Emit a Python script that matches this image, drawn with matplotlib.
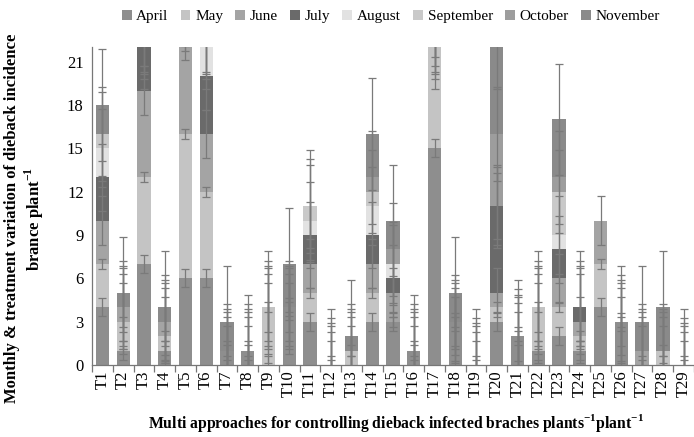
import matplotlib
matplotlib.use("Agg")
import matplotlib.pyplot as plt
import numpy as np

categories = ["T%d" % i for i in range(1, 30)]
months = ["April", "May", "June", "July", "August", "September", "October", "November"]

# None = no entry (no bar segment, no error bar)
april = [4, 1, 7, 1, 6, 6, 1, 1, 0, 4, 3, 0, 0, 3, 3, 1, 15, 3, 0, 3, 2, 1, 2, 1, 4, 3, 0, 0, 0]
may = [3, 2, 6, 1, 10, 6, 0, 0, 4, 0, 2, 0, 1, 2, 0, 0, 8, 0, 0, 1, 0, 3, 2, 1, 3, 0, 0, 1, 0]
june = [3, 1, 6, 1, 9, 4, 0, 0, 0, 0, 2, 0, 0, 2, 2, 0, 0, 0, 0, 1, 0, 0, 2, 1, 3, 0, 1, 0, 0]
july = [3, 0, 4, 0, 0, 4, 0, 0, 0, 0, 2, 0, 0, 2, 1, 0, 0, 0, 0, 6, 0, 0, 2, 1, None, 0, 0, 0, 0]
august = [2, 0, 0, 0, 0, 3, 0, 0, 0, 0, 1, 0, 0, 2, 1, 0, 0, 0, 0, 0, 0, 0, 1, 0, None, 0, 0, 0, 0]
september = [1, 0, 0, 0, 0, 0, 0, 0, 0, 0, 1, 0, 0, 1, 0, 0, 0, 0, 0, 0, 0, 0, 3, 0, None, 0, 0, 0, 0]
october = [0, 0, 0, 0, 0, 0, 0, 0, 0, 0, 0, 0, 0, 1, 1, 0, 0, 0, 0, 5, 0, 0, 1, 0, None, 0, 0, 0, 0]
november = [2, 1, 0, 1, 0, 0, 2, 0, 0, 3, 0, 0, 1, 3, 2, 0, 0, 2, 0, 7, 0, 0, 4, 0, None, 0, 2, 3, 0]

# one standard error per series (same for every treatment)
errors = [0.63, 0.35, 1.69, 2.31, 2.7, 2.88, 3.23, 3.86]

series = [april, may, june, july, august, september, october, november]
colors = ["#8e8e8e", "#c4c4c4", "#a4a4a4", "#6a6a6a", "#e2e2e2", "#c9c9c9", "#9d9d9d", "#8a8a8a"]

plt.rcParams['font.family'] = ['Liberation Serif', 'DejaVu Serif']

fig = plt.figure(figsize=(6.94, 4.37), dpi=100)
ax = fig.add_axes([0.1326, 0.1648, 0.8674, 0.727])

x = np.arange(len(categories))
bottom = np.zeros(len(categories))
for vals, col, lab, err in zip(series, colors, months, errors):
    v = np.array([np.nan if a is None else a for a in vals], dtype=float)
    present = ~np.isnan(v)
    vz = np.nan_to_num(v)
    ax.bar(x, vz, 0.64, bottom=bottom, color=col, label=lab, zorder=2, linewidth=0)
    bottom = bottom + vz
    ax.errorbar(x[present], bottom[present], yerr=err, fmt="none", ecolor="#7a7a7a",
                elinewidth=0.9, capsize=3, capthick=0.9, zorder=3)

ax.set_ylim(0, 22)
ax.set_xlim(-0.5, len(categories) - 0.5)
ax.set_yticks(np.arange(0, 22, 3))
ax.tick_params(axis="y", length=0, labelsize=12, pad=6)
ax.set_xticks(x)
ax.set_xticklabels(categories, rotation=90, fontsize=12)
ax.tick_params(axis="x", which="major", length=0, pad=4)
ax.set_xticks(np.arange(-0.5, len(categories), 1), minor=True)
ax.tick_params(axis="x", which="minor", length=5, color="#777777", width=0.9)

for s in ["top", "right"]:
    ax.spines[s].set_visible(False)
for s in ["left", "bottom"]:
    ax.spines[s].set_color("#777777")
    ax.spines[s].set_linewidth(0.9)

fig.legend(loc="center", bbox_to_anchor=(0.563, 0.962), ncol=8, frameon=False,
           fontsize=11, handlelength=0.65, handleheight=0.65, handletextpad=0.3,
           columnspacing=0.8)

fig.text(0.036, 0.50, "Monthly & treatment variation of dieback incidence\nbrance plant$^{\\mathregular{-1}}$",
         rotation=90, ha="center", va="center", fontsize=12, fontweight="bold",
         multialignment="center")
fig.text(0.570, 0.032, "Multi approaches for controlling dieback infected braches plants$^{\\mathregular{-1}}$plant$^{\\mathregular{-1}}$",
         ha="center", va="center", fontsize=11.3, fontweight="bold")

fig.savefig("out.png", dpi=100)
